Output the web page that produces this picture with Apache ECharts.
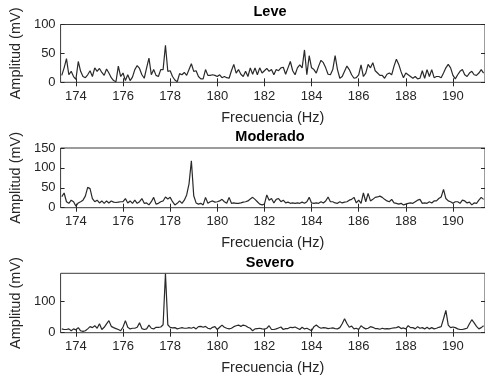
<!DOCTYPE html>
<html><head><meta charset="utf-8">
<script src="https://cdn.jsdelivr.net/npm/echarts@6/dist/echarts.min.js"></script>
<style>html,body{margin:0;padding:0;background:#fff}#c{width:485px;height:377px}</style>
</head><body><div id="c"></div>
<script>
// sampling of the spectra (Hz)
const FREQ_START = 173.4;
const FREQ_STEP = 0.1;
const X_MIN = 173.35;
const X_MAX = 191.36;
const xTicks = [174, 176, 178, 180, 182, 184, 186, 188, 190];
const titles = ['Leve', 'Moderado', 'Severo'];
const xName = 'Frecuencia (Hz)';
const yName = 'Amplitud (mV)';
const yMaxes = [100, 150, 187];
const yTicksLeve = [0, 50, 100];
const yTicksModerado = [0, 50, 100, 150];
const yTicksSevero = [0, 100];

const leve = [
12,25,41,13,19,10,5,36,19,10, 8,13,20,10,25,19,24,17,12,23,
16,8,3,1,28,10,16,3,13,3, 9,22,29,24,13,7,25,42,13,22,
12,10,22,22,64,19,20,10,4,1, 15,13,17,12,22,32,19,20,10,6,
6,22,12,12,13,12,10,13,8,10, 8,7,20,31,16,22,14,10,19,10,
25,14,25,13,25,16,20,24,19,22,
13,22,20,25,26,14,25,36,20,13, 25,30,25,56,13,46,25,22,16,28,
38,34,25,14,13,22,46,22,7,10, 19,28,22,13,7,8,13,30,10,16,
31,25,34,20,16,12,12,7,14,16, 13,28,40,31,18,8,16,13,10,7,
10,6,7,20,7,22,10,22,8,10, 10,8,16,25,31,25,12,6,13,19,
22,13,10,16,19,13,12,16,22,16
];
const moderado = [
28,37,15,11,19,15,4,12,15,19, 29,51,48,23,15,19,12,17,11,17,
12,17,14,13,14,15,15,23,12,17, 11,19,11,15,23,11,12,7,15,26,
9,11,15,17,27,22,26,15,7,11, 17,11,19,32,60,118,30,12,9,11,
7,26,11,15,17,14,15,17,21,15, 11,26,11,12,11,11,12,14,15,17,
22,26,21,15,9,7,9,32,19,23,
12,21,23,15,19,12,14,11,12,11, 12,11,14,11,15,26,12,11,12,11,
15,12,17,27,15,15,12,11,15,12, 14,15,19,21,26,12,19,11,37,15,
36,17,21,26,27,29,26,21,17,15, 21,12,11,9,11,7,9,11,12,11,
15,19,21,11,12,11,15,12,17,17, 23,27,46,23,17,15,11,15,15,11,
19,17,12,14,7,12,11,19,26,21
];
const severo = [
12,10,10,12,6,12,9,16,6,4, 6,12,19,16,22,14,28,10,17,28,
38,20,16,13,10,6,18,38,17,12, 14,14,17,31,13,10,12,24,14,12,
17,17,18,25,186,25,17,15,16,12, 14,16,14,14,16,14,17,12,19,20,
17,20,14,12,17,19,10,17,24,17, 14,12,14,19,22,24,20,24,22,17,
14,6,12,13,14,12,11,14,22,10,
10,12,15,18,10,13,13,17,16,18, 14,10,17,12,14,10,6,19,24,18,
14,16,15,13,14,15,13,12,16,28, 44,29,17,21,12,14,10,22,16,12,
14,19,17,13,13,11,14,12,13,12, 14,15,16,19,13,15,12,22,16,16,
12,19,14,16,12,17,12,16,12,14, 17,19,44,70,24,16,18,16,12,10,
10,12,14,28,41,31,20,12,16,22
];

const seriesValues = [leve, moderado, severo];
const yTicks = [yTicksLeve, yTicksModerado, yTicksSevero];

const FONT = "'Liberation Sans', Arial, Helvetica, sans-serif";
const AX = '#262626';
const grids = [
  {left: 54, top: 24.5, width: 432, height: 57.8},
  {left: 54, top: 148, width: 432, height: 59.7},
  {left: 54, top: 273.3, width: 432, height: 59.4}
];
const titleTops = [4.5, 129.5, 255];

const option = {
  animation: false,
  backgroundColor: '#fff',
  title: [], grid: [], xAxis: [], yAxis: [], series: []
};

for (let k = 0; k < 3; k++) {
  option.grid.push(Object.assign({show: true, borderColor: '#3a3a3a', borderWidth: 1, backgroundColor: '#fff', containLabel: false}, grids[k]));
  option.title.push({
    text: titles[k], left: 270, top: titleTops[k], textAlign: 'center', padding: 0,
    textStyle: {fontFamily: FONT, fontSize: 14.5, fontWeight: 'bold', color: '#000'}
  });
  const tickStyle = {inside: true, length: 4, lineStyle: {color: AX, width: 1}};
  option.xAxis.push({
    gridIndex: k, type: 'value', position: 'bottom', min: X_MIN, max: X_MAX,
    axisLine: {show: false}, splitLine: {show: false},
    axisTick: Object.assign({customValues: xTicks}, tickStyle),
    axisLabel: {customValues: xTicks, margin: 7.5, fontSize: 13, color: AX, fontFamily: FONT},
    name: xName, nameLocation: 'middle', nameGap: 28,
    nameTextStyle: {fontSize: 14.5, color: AX, fontFamily: FONT}
  });
  option.xAxis.push({
    gridIndex: k, type: 'value', position: 'top', min: X_MIN, max: X_MAX,
    axisLine: {show: false}, splitLine: {show: false},
    axisTick: Object.assign({customValues: xTicks}, tickStyle),
    axisLabel: {show: false}
  });
  option.yAxis.push({
    gridIndex: k, type: 'value', position: 'left', min: 0, max: yMaxes[k],
    axisLine: {show: false}, splitLine: {show: false},
    axisTick: Object.assign({customValues: yTicks[k]}, tickStyle),
    axisLabel: {customValues: yTicks[k], margin: 5, fontSize: 13, color: AX, fontFamily: FONT},
    name: yName, nameLocation: 'middle', nameGap: 29, nameRotate: 90,
    nameTextStyle: {fontSize: 14.5, color: AX, fontFamily: FONT}
  });
  option.yAxis.push({
    gridIndex: k, type: 'value', position: 'right', min: 0, max: yMaxes[k],
    axisLine: {show: false}, splitLine: {show: false},
    axisTick: Object.assign({customValues: yTicks[k]}, tickStyle),
    axisLabel: {show: false}
  });
  const vals = seriesValues[k];
  option.series.push({
    type: 'line', xAxisIndex: 2 * k, yAxisIndex: 2 * k,
    data: vals.map((v, i) => [+(FREQ_START + i * FREQ_STEP).toFixed(2), v]),
    showSymbol: false, symbol: 'none', silent: true,
    lineStyle: {color: '#2a2a2a', width: 1.2}
  });
}

const chart = echarts.init(document.getElementById('c'), null, {renderer: 'canvas'});
chart.setOption(option);
</script>
</body></html>
